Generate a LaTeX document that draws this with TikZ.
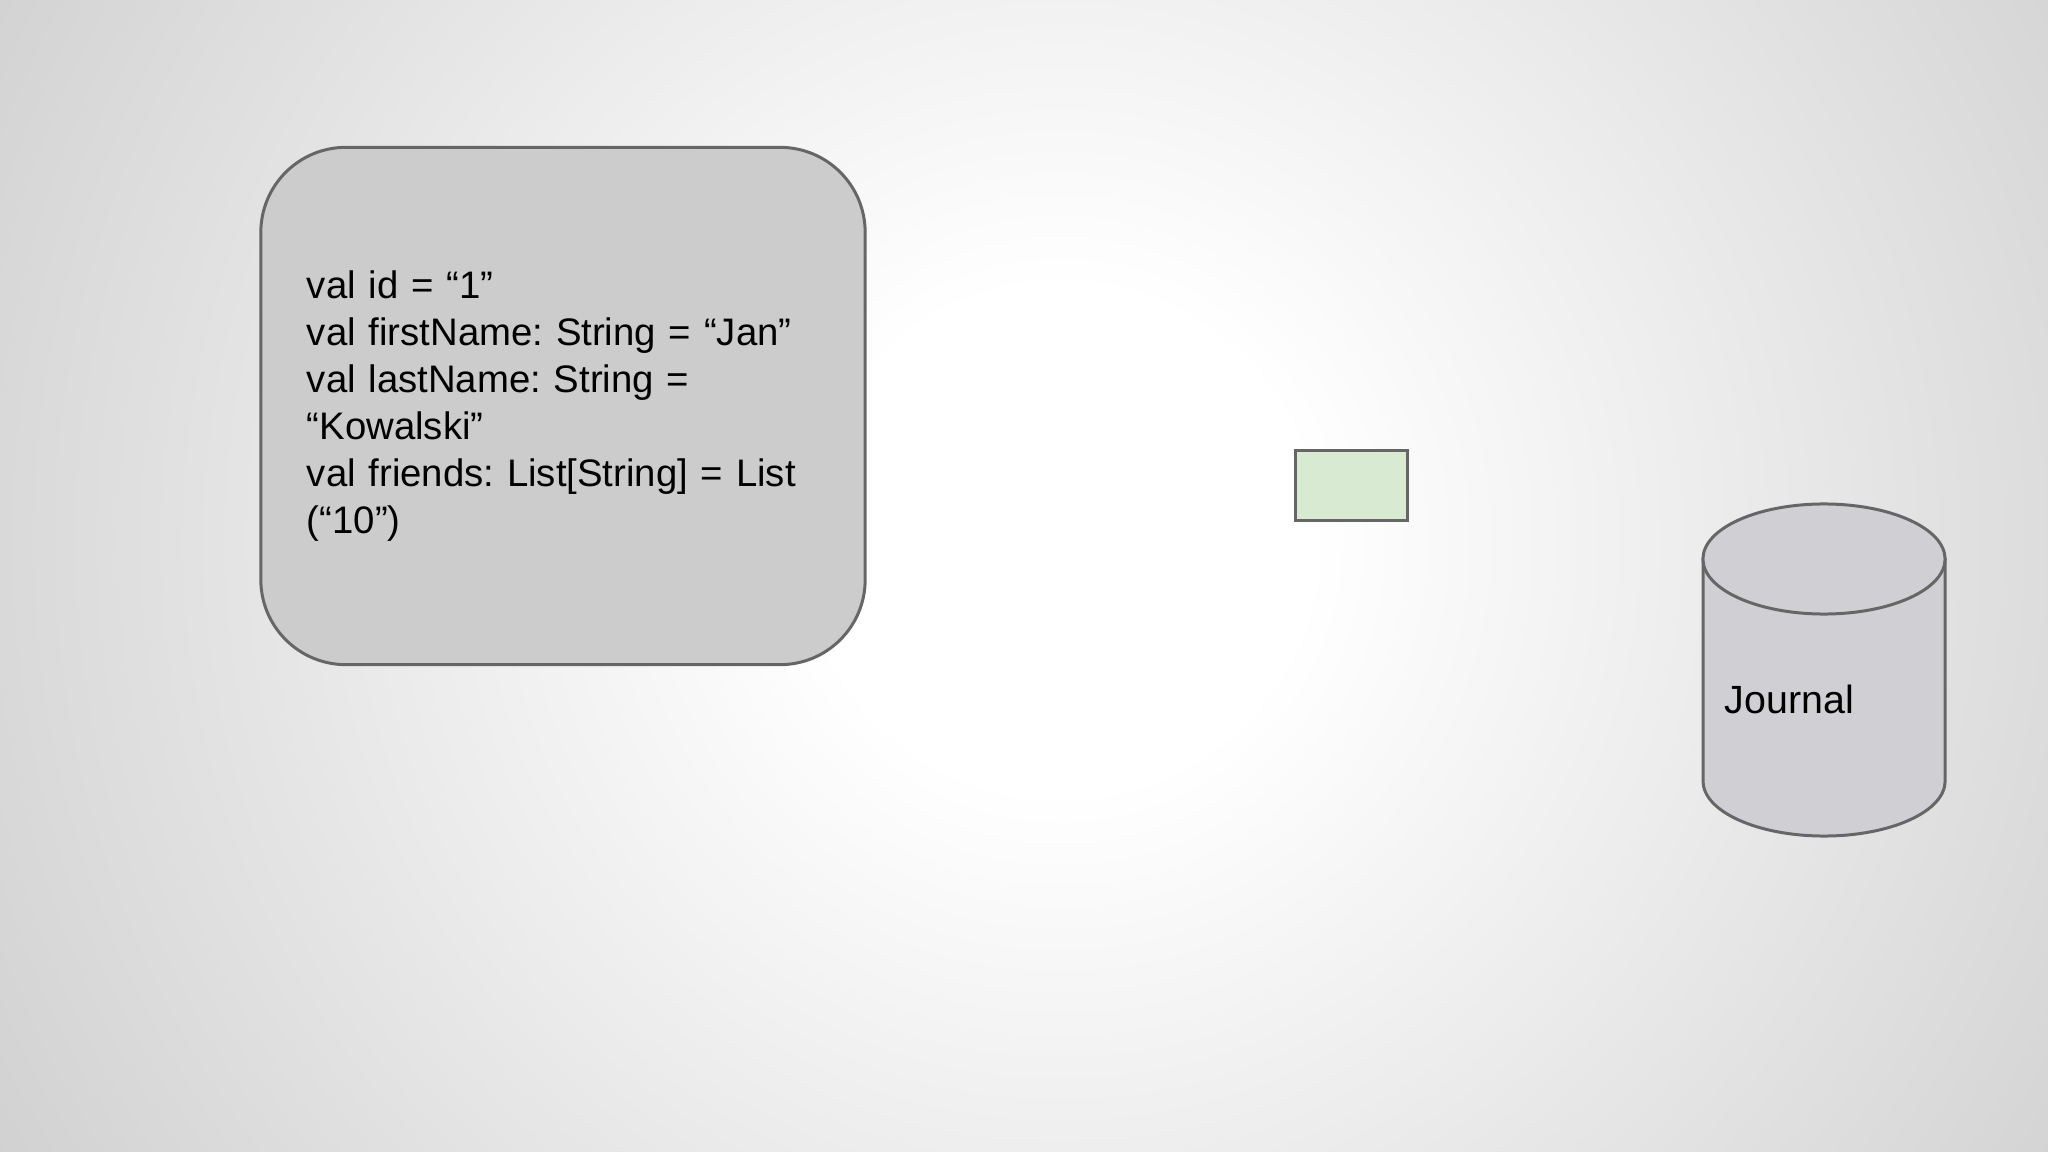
\documentclass[tikz,border=0pt]{standalone}
\usepackage{fontspec}
\setmainfont{Liberation Sans}
\usepackage{tikz}
\usetikzlibrary{positioning,calc}

\definecolor{bgedge}{HTML}{D0D0D0}
\definecolor{edgegray}{HTML}{666666}
\definecolor{recordfill}{HTML}{CCCCCC}
\definecolor{msgfill}{HTML}{D9EAD3}
\definecolor{storefill}{HTML}{D0CFD3}
\pgfdeclareradialshading{slidebg}{\pgfpoint{0bp}{0bp}}{color(0bp)=(white); color(5bp)=(white); color(25bp)=(bgedge); color(50bp)=(bgedge)}
\frenchspacing

\begin{document}
\begin{tikzpicture}[
    x=0.01cm, y=0.01cm,
    every node/.style={font=\fontsize{10.9}{13.4}\selectfont},
    record/.style={draw=edgegray, line width=0.85pt, fill=recordfill, rectangle, rounded corners=0.85cm,
        minimum width=6.04cm, minimum height=5.17cm, inner xsep=0.46cm, text width=5.12cm, align=left},
    msg/.style={draw=edgegray, line width=0.85pt, fill=msgfill, rectangle, minimum width=1.11cm, minimum height=0.69cm, inner sep=0pt},
    store/.style={draw=edgegray, line width=0.85pt, fill=storefill}
]
    \useasboundingbox (0,0) rectangle (2048,-1152);

    % Background
    \begin{scope}
        \clip (0,0) rectangle (2048,-1152);
        \shade[shading=slidebg] (1060,-540) circle [radius=12.5cm];
    \end{scope}

    % Actor state
    \node [record] (state) at (563,-406) {val id = “1”\\val firstName: String = “Jan”\\val lastName: String =\\“Kowalski”\\val friends: List[String] = List\\(“10”)};

    % Event
    \node [msg] (event) at (1351.5,-485.5) {};

    % Journal
    \coordinate (top) at (1824,-559);
    \coordinate (bottom) at (1824,-781);
    \path [store] ($(top)+(-121,0)$) -- ($(bottom)+(-121,0)$)
        arc [start angle=180, end angle=360, x radius=1.21cm, y radius=0.55cm]
        -- ($(top)+(121,0)$) -- cycle;
    \path [store] (top) ellipse [x radius=1.21cm, y radius=0.55cm];
    \node [anchor=base west, inner sep=0pt, font=\fontsize{11.2}{13.4}\selectfont] (journal) at (1724,-713) {Journal};
\end{tikzpicture}
\end{document}
